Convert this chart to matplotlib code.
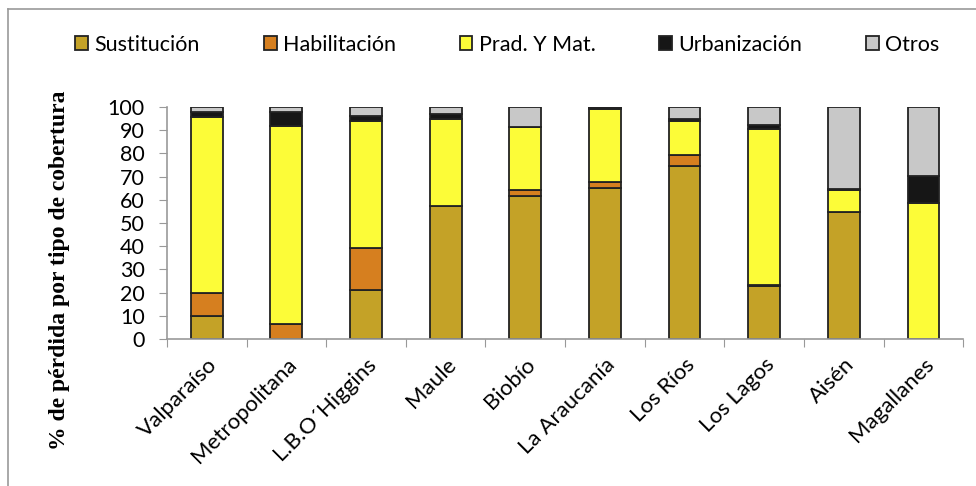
import matplotlib
matplotlib.use("Agg")
import matplotlib.pyplot as plt
from matplotlib.patches import Patch
from matplotlib.lines import Line2D
import numpy as np

regions = ["Valparaíso", "Metropolitana", "L.B.O´Higgins", "Maule", "Biobío",
           "La Araucanía", "Los Ríos", "Los Lagos", "Aisén", "Magallanes"]
sustitucion  = [10.0, 0.0, 21.2, 57.2, 61.5, 65.1, 74.6, 22.7, 54.8, 0.0]
habilitacion = [10.0, 6.3, 18.0, 0.0, 2.6, 2.6, 4.5, 0.5, 0.0, 0.0]
prad_mat     = [75.5, 85.5, 54.6, 37.8, 27.1, 31.2, 14.7, 67.5, 9.3, 58.4]
urbanizacion = [2.3, 6.0, 2.2, 2.1, 0.2, 0.5, 0.9, 1.4, 0.7, 12.0]
otros        = [2.2, 2.2, 4.0, 2.9, 8.6, 0.6, 5.3, 7.9, 35.2, 29.6]

series_names = ["Sustitución", "Habilitación", "Prad. Y Mat.", "Urbanización", "Otros"]
series = [sustitucion, habilitacion, prad_mat, urbanizacion, otros]
colors = ["#C4A227", "#D67F1F", "#FCFC38", "#161616", "#C8C8C8"]
yticks = list(range(0, 101, 10))

plt.rcParams['font.family'] = ['Lato', 'DejaVu Sans']

fig = plt.figure(figsize=(9.76, 4.86), dpi=100)
ax = fig.add_axes([0.171, 0.3025, 0.816, 0.4775])

x = np.arange(len(regions))
bottom = np.zeros(len(regions))
for name, vals, c in zip(series_names, series, colors):
    v = np.array(vals)
    ax.bar(x, v, width=0.4, bottom=bottom, color=c, edgecolor="#222222",
           linewidth=1.3, label=name)
    bottom += v

ax.set_xlim(-0.5, len(regions) - 0.5)
ax.set_ylim(0, 100)
ax.set_yticks(yticks)
ax.set_yticklabels([str(t) for t in yticks], fontsize=15.5)
ax.set_xticks(np.arange(len(regions) + 1) - 0.5)
ax.set_xticklabels([])
ax.set_xticks(x, minor=True)
ax.set_xticklabels(regions, minor=True, rotation=45, ha="right",
                   rotation_mode="anchor", fontsize=16)
ax.tick_params(axis="x", which="minor", length=0, pad=11)
ax.tick_params(axis="x", which="major", length=6, color="#999999", direction="out")
ax.tick_params(axis="y", length=6, color="#999999", direction="out", pad=10)

for s in ["top", "right"]:
    ax.spines[s].set_visible(False)
for s in ["left", "bottom"]:
    ax.spines[s].set_color("#999999")
    ax.spines[s].set_linewidth(1.2)

fig.text(0.061, 0.443, "% de pérdida por tipo de cobertura", family="Liberation Serif",
         fontweight="bold", fontsize=17, rotation=90, ha="center", va="center")

handles = [Patch(facecolor=c, edgecolor="#222222", linewidth=1.3) for c in colors]
fig.legend(handles, series_names, loc="center", bbox_to_anchor=(0.52, 0.908),
           ncol=5, frameon=False, fontsize=15.5, handlelength=0.6,
           handleheight=0.6, handletextpad=0.3, columnspacing=2.95)

# outer frame lines (top and left)
fig.add_artist(Line2D([0.008, 1.0], [0.981, 0.981], color="#999999", lw=1.2,
                      transform=fig.transFigure))
fig.add_artist(Line2D([0.008, 0.008], [0.0, 0.981], color="#999999", lw=1.2,
                      transform=fig.transFigure))

fig.savefig("out.png", dpi=100)
